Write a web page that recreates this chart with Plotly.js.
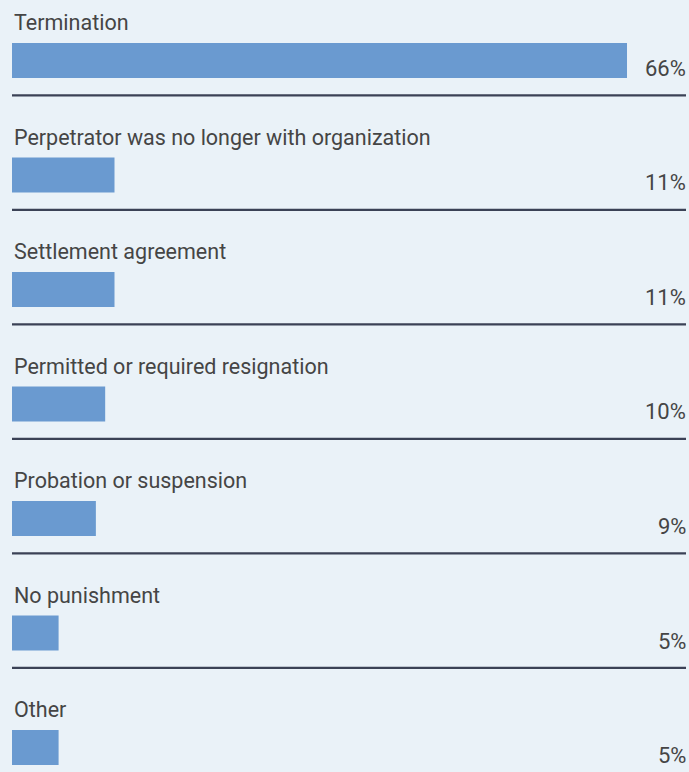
<!DOCTYPE html>
<html>
<head>
<meta charset="utf-8">
<script src="https://cdn.plot.ly/plotly-3.0.1.min.js"></script>
<style>html,body{margin:0;padding:0;background:#eaf2f8;}#chart{width:689px;height:772px;}</style>
</head>
<body>
<div id="chart"></div>
<script>
const categories = [
  "Termination",
  "Perpetrator was no longer with organization",
  "Settlement agreement",
  "Permitted or required resignation",
  "Probation or suspension",
  "No punishment",
  "Other"
];
const values = [66, 11, 11, 10, 9, 5, 5];
const valueLabels = ["66%", "11%", "11%", "10%", "9%", "5%", "5%"];

const idx = categories.map((c, i) => i);
const FONT = "Roboto, 'Open Sans', sans-serif";
const TEXT = "#454545";

const annotations = [];
categories.forEach((c, i) => {
  annotations.push({
    x: 0, xref: 'paper', xanchor: 'left',
    y: i - 0.33, yref: 'y', yanchor: 'middle',
    text: c, showarrow: false,
    font: {family: FONT, size: 21.5, color: TEXT}
  });
  annotations.push({
    x: 1, xref: 'paper', xanchor: 'right', xshift: 2,
    y: i + 0.07, yref: 'y', yanchor: 'middle',
    text: valueLabels[i], showarrow: false,
    font: {family: FONT, size: 22, color: TEXT}
  });
});

const shapes = idx.slice(0, -1).map(i => ({
  type: 'line', xref: 'paper', yref: 'y',
  x0: 0, x1: 1, y0: i + 0.305, y1: i + 0.305,
  line: {color: '#3b4256', width: 2.2}
}));

Plotly.newPlot('chart', [{
  type: 'bar', orientation: 'h',
  x: values, y: idx,
  width: 0.306,
  marker: {color: '#6a9ad0'},
  hoverinfo: 'none'
}], {
  width: 689, height: 772,
  margin: {l: 12, r: 3, t: 0, b: 0, pad: 0},
  paper_bgcolor: '#eaf2f8', plot_bgcolor: '#eaf2f8',
  xaxis: {range: [0, 72.33], visible: false, fixedrange: true},
  yaxis: {range: [6.214, -0.528], visible: false, fixedrange: true},
  showlegend: false,
  annotations: annotations,
  shapes: shapes
}, {displayModeBar: false, staticPlot: true});
</script>
</body>
</html>
